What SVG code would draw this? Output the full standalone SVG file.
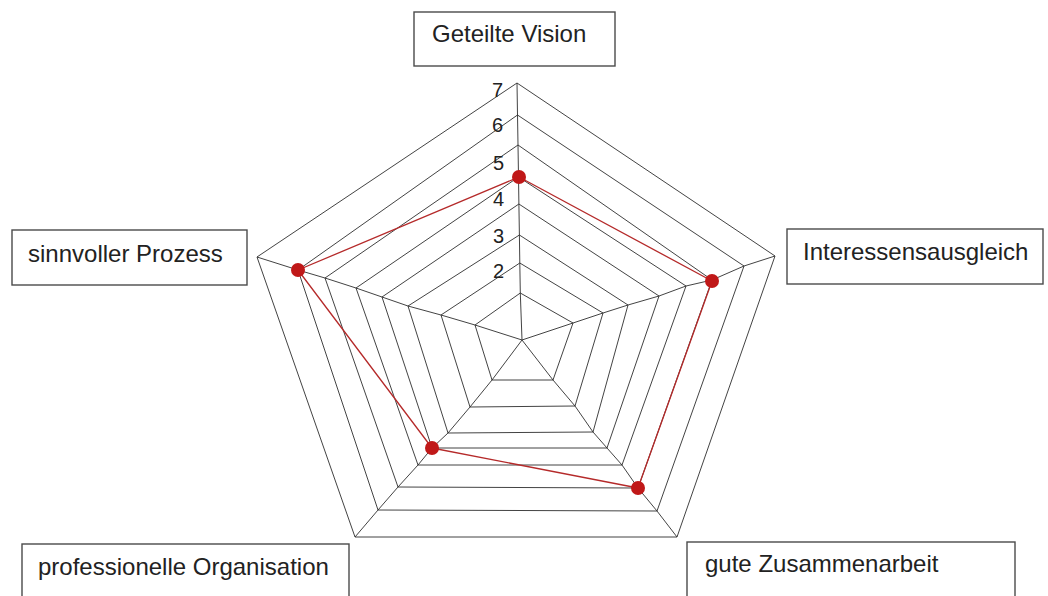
<svg xmlns="http://www.w3.org/2000/svg" width="1048" height="596" viewBox="0 0 1048 596">
  <style>
    .ring { fill: none; stroke: #2e2e2e; stroke-width: 0.9; stroke-linejoin: miter; }
    .spoke { fill: none; stroke: #2e2e2e; stroke-width: 0.9; }
    .tick { font-family: "Liberation Sans", Arial, sans-serif; font-size: 20px; fill: #222; }
    .box { fill: #fff; stroke: #4a4a4a; stroke-width: 1.4; }
    .label { font-family: "Liberation Sans", Arial, sans-serif; font-size: 24px; fill: #222; }
    .series { fill: none; stroke: #b52a2a; stroke-width: 1.3; stroke-linejoin: round; }
    .dot { fill: #c01818; }
  </style>
  <rect width="1048" height="596" fill="#fff"/>

  <!-- radar grid: eight rings, vertices ordered top, right, bottom-right, bottom-left, left -->
  <g id="grid">
    <polygon class="ring" points="520.3,293 573,323 553,380 492,380 475,325"/>
    <polygon class="ring" points="519.8,263 603,313 575,406 470,407 441,315"/>
    <polygon class="ring" points="519.4,235 628,305 593,432 448,433 408,306"/>
    <polygon class="ring" points="518.9,204 659,296 607,448 432,448 382,297"/>
    <polygon class="ring" points="518.5,177 686,286 622,465 418,465 356,288"/>
    <polygon class="ring" points="518,145 712,280 638,488 398,487 325,278"/>
    <polygon class="ring" points="517.5,115 744,266 657,511 378,510 298,270"/>
    <polygon class="ring" points="517,83 775,256 677,537 355,537 257,257"/>
  </g>

  <!-- spokes from the centre out to the outer ring -->
  <g id="spokes">
    <polyline class="spoke" points="522,340 520.3,293 519.8,263 519.4,235 518.9,204 518.5,177 518,145 517.5,115 517,83"/>
    <polyline class="spoke" points="522,340 573,323 603,313 628,305 659,296 686,286 712,280 744,266 775,256"/>
    <polyline class="spoke" points="522,340 553,380 575,406 593,432 607,448 622,465 638,488 657,511 677,537"/>
    <polyline class="spoke" points="522,340 492,380 470,407 448,433 432,448 418,465 398,487 378,510 355,537"/>
    <polyline class="spoke" points="522,340 475,325 441,315 408,306 382,297 356,288 325,278 298,270 257,257"/>
  </g>

  <!-- scale values along the top axis -->
  <g id="scale">
    <text class="tick" x="492" y="97">7</text>
    <text class="tick" x="492" y="132">6</text>
    <text class="tick" x="493" y="170">5</text>
    <text class="tick" x="493" y="206">4</text>
    <text class="tick" x="493" y="243">3</text>
    <text class="tick" x="493" y="278">2</text>
  </g>

  <!-- data series -->
  <g id="connectors">
    <polygon class="series" points="519,177 712,281 638,488 432,448 298,270"/>
  </g>
  <g id="points">
    <circle class="dot" cx="519" cy="177" r="7"/>
    <circle class="dot" cx="712" cy="281" r="7"/>
    <circle class="dot" cx="638" cy="488" r="7"/>
    <circle class="dot" cx="432" cy="448" r="7"/>
    <circle class="dot" cx="298" cy="270" r="7"/>
  </g>

  <!-- axis captions -->
  <g id="node-vision">
    <rect class="box" x="414" y="12" width="201" height="54"/>
    <text class="label" x="432" y="42">Geteilte Vision</text>
  </g>
  <g id="node-interessen">
    <rect class="box" x="787" y="229" width="256" height="55"/>
    <text class="label" x="803" y="260">Interessensausgleich</text>
  </g>
  <g id="node-zusammenarbeit">
    <rect class="box" x="687" y="542" width="328" height="60"/>
    <text class="label" x="705" y="572">gute Zusammenarbeit</text>
  </g>
  <g id="node-organisation">
    <rect class="box" x="22" y="544" width="327" height="60"/>
    <text class="label" x="38" y="575">professionelle Organisation</text>
  </g>
  <g id="node-prozess">
    <rect class="box" x="12" y="230" width="235" height="55"/>
    <text class="label" x="28" y="262">sinnvoller Prozess</text>
  </g>
</svg>
